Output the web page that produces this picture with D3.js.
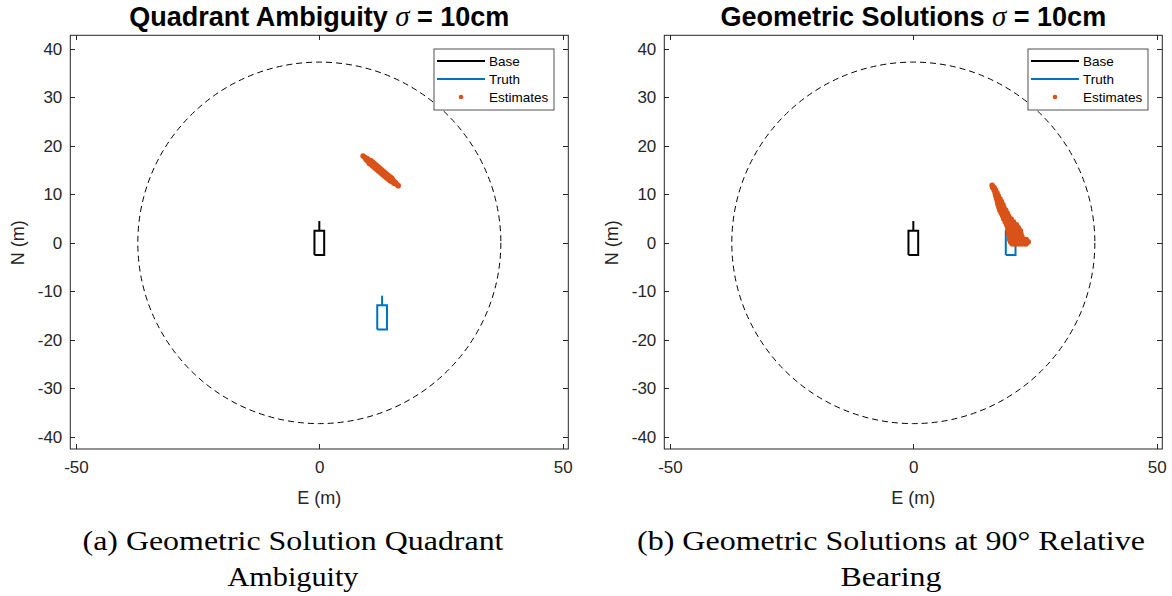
<!DOCTYPE html>
<html><head><meta charset="utf-8">
<script src="https://cdn.jsdelivr.net/npm/d3@7"></script>
<style>body{margin:0;background:#fff}svg{display:block}</style>
</head><body>
<svg id="c" width="1172" height="596"></svg>
<script>
// ---------- data ----------
const xTicks = [-50, 0, 50];
const yTicks = [-40, -30, -20, -10, 0, 10, 20, 30, 40];
const xLimits = [-51.17, 51.16];
const yLimits = [-42.54, 42.83];
const rangeCircleRadius = 37.3;
const legendLabels = ["Base", "Truth", "Estimates"];
const titlePrefixes = ["Quadrant Ambiguity ", "Geometric Solutions "];
const titleSymbol = "σ";
const titleSuffix = " = 10cm";
const captionsA = ["(a) Geometric Solution Quadrant", "Ambiguity"];
const captionsB = ["(b) Geometric Solutions at 90° Relative", "Bearing"];
// vessel outline relative to its centre (E,N metres): hull rectangle + mast
const hullShape = [[-1,-2.5],[1,-2.5],[1,2.5],[-1,2.5],[-1,-2.5]];
const mastShape = [[0,2.5],[0,4.5]];
const baseCentreA = [0, 0];
const truthCentreA = [12.9, -15.4];
const baseCentreB = [0, 0];
const truthCentreB = [20, 0];
// estimated positions (E,N metres)
const estimatesA = [
 [9.00,17.90],[9.36,17.60],
 [9.82,17.40],[9.62,17.18],
 [10.18,17.10],[9.98,16.88],
 [10.63,16.91],[10.44,16.68],[10.25,16.45],
 [10.99,16.61],[10.80,16.38],[10.61,16.15],
 [11.35,16.30],[11.16,16.07],[10.97,15.84],
 [11.71,16.00],[11.52,15.77],[11.33,15.54],
 [12.07,15.69],[11.88,15.46],[11.69,15.23],
 [12.43,15.39],[12.24,15.16],[12.05,14.93],
 [12.79,15.08],[12.60,14.85],[12.41,14.62],
 [13.15,14.78],[12.96,14.55],[12.77,14.32],
 [13.51,14.47],[13.32,14.24],[13.13,14.01],
 [13.87,14.17],[13.68,13.94],[13.49,13.71],
 [14.23,13.86],[14.04,13.63],[13.85,13.40],
 [14.59,13.56],[14.40,13.33],[14.21,13.10],
 [14.95,13.25],[14.76,13.02],[14.57,12.79],
 [15.22,12.83],[15.02,12.61],
 [15.58,12.52],[15.38,12.30],
 [15.84,12.11],[16.20,11.80]
];
const estimatesB = [
 [16.2,11.9],
 [16.3,11.4],[16.6,11.4],
 [16.6,10.9],[16.9,10.9],
 [16.8,10.3],[17.2,10.3],
 [16.95,9.7],[17.45,9.7],
 [17.1,9.1],[17.5,9.1],[17.8,9.1],
 [17.3,8.5],[17.7,8.5],[18.1,8.5],
 [17.4,7.9],[17.9,7.9],[18.4,7.9],
 [17.6,7.3],[18.1,7.3],[18.6,7.3],
 [17.8,6.7],[18.3,6.7],[18.8,6.7],[19.0,6.7],
 [18.1,6.1],[18.6,6.1],[19.1,6.1],[19.3,6.1],
 [18.4,5.5],[18.9,5.5],[19.4,5.5],[19.6,5.5],
 [18.6,4.9],[19.1,4.9],[19.6,4.9],[20.1,4.9],
 [18.9,4.3],[19.4,4.3],[19.9,4.3],[20.4,4.3],[20.6,4.3],
 [19.2,3.7],[19.7,3.7],[20.2,3.7],[20.7,3.7],[21.2,3.7],
 [19.4,3.1],[19.9,3.1],[20.4,3.1],[20.9,3.1],[21.4,3.1],[21.6,3.1],
 [19.5,2.5],[20.0,2.5],[20.5,2.5],[21.0,2.5],[21.5,2.5],[22.0,2.5],
 [19.6,1.9],[20.1,1.9],[20.6,1.9],[21.1,1.9],[21.6,1.9],[22.1,1.9],
 [19.8,1.3],[20.3,1.3],[20.8,1.3],[21.3,1.3],[21.8,1.3],[22.3,1.3],
 [19.8,0.7],[20.3,0.7],[20.8,0.7],[21.3,0.7],[21.8,0.7],[22.3,0.7],[22.8,0.7],[23.2,0.7],
 [20.0,0.2],[20.5,0.2],[21.0,0.2],[21.5,0.2],[22.0,0.2],[22.5,0.2],[23.0,0.2],[23.6,0.2],
 [20.3,-0.2],[20.8,-0.2],[21.3,-0.2],[21.8,-0.2],[22.3,-0.2],[22.8,-0.2],[23.2,-0.2]
];

// ---------- layout / style ----------
const AX = "#262626", BASE_C = "#000000", TRUTH_C = "#0072BD", EST_C = "#D95319";
const SANS = "'Liberation Sans', Arial, Helvetica, sans-serif";
const SERIF = "'Liberation Serif', 'Times New Roman', serif";
const plotL = 70.3, plotR = 568.3, plotT = 35.3, plotB = 449;

const panels = [
  {off: 0,   prefix: titlePrefixes[0], base: baseCentreA, truth: truthCentreA, est: estimatesA,
   caption: captionsA, capX: 293, capW: [421, 131]},
  {off: 594, prefix: titlePrefixes[1], base: baseCentreB, truth: truthCentreB, est: estimatesB,
   caption: captionsB, capX: 297, capW: [508, 101]}
];

const svg = d3.select("#c");
svg.append("rect").attr("width", 1172).attr("height", 596).attr("fill", "#fff");

panels.forEach(p => {
  const g = svg.append("g").attr("transform", `translate(${p.off},0)`);
  const x = d3.scaleLinear().domain(xLimits).range([plotL, plotR]);
  const y = d3.scaleLinear().domain(yLimits).range([plotB, plotT]);
  const fmt = d => String(d);

  // axes with inward ticks on all four sides
  const styleAxis = sel => {
    sel.select(".domain").remove();
    sel.attr("color", AX).attr("font-family", SANS).attr("font-size", 17);
    sel.selectAll("line").attr("stroke-width", 1).attr("shape-rendering", "crispEdges");
    sel.selectAll("text").attr("fill", AX);
  };
  g.append("g").attr("transform", `translate(0,${plotB})`)
    .call(d3.axisBottom(x).tickValues(xTicks).tickSizeInner(-5).tickSizeOuter(0).tickPadding(12).tickFormat(fmt))
    .call(styleAxis);
  g.append("g").attr("transform", `translate(0,${plotT})`)
    .call(d3.axisTop(x).tickValues(xTicks).tickSizeInner(-5).tickSizeOuter(0).tickFormat(() => ""))
    .call(styleAxis);
  g.append("g").attr("transform", `translate(${plotL},0)`)
    .call(d3.axisLeft(y).tickValues(yTicks).tickSizeInner(-5).tickSizeOuter(0).tickPadding(8).tickFormat(fmt))
    .call(styleAxis);
  g.append("g").attr("transform", `translate(${plotR},0)`)
    .call(d3.axisRight(y).tickValues(yTicks).tickSizeInner(-5).tickSizeOuter(0).tickFormat(() => ""))
    .call(styleAxis);

  g.append("rect").attr("x", plotL).attr("y", plotT)
    .attr("width", plotR - plotL).attr("height", plotB - plotT)
    .attr("fill", "none").attr("stroke", AX).attr("stroke-width", 1);

  // axis labels
  g.append("text").attr("x", (plotL + plotR) / 2).attr("y", 504)
    .attr("text-anchor", "middle").attr("font-family", SANS).attr("font-size", 18)
    .attr("fill", AX).text("E (m)");
  g.append("text").attr("transform", `translate(24,${y(0)}) rotate(-90)`)
    .attr("text-anchor", "middle").attr("font-family", SANS).attr("font-size", 18)
    .attr("fill", AX).text("N (m)");

  // title
  const t = g.append("text").attr("x", (plotL + plotR) / 2).attr("y", 26)
    .attr("text-anchor", "middle").attr("font-family", SANS).attr("font-weight", "bold")
    .attr("font-size", 27).attr("fill", "#000");
  t.append("tspan").text(p.prefix);
  t.append("tspan").attr("font-family", SERIF).attr("font-style", "italic")
    .attr("font-weight", "normal").attr("font-size", 29).text(titleSymbol);
  t.append("tspan").text(titleSuffix);

  // dashed range circle
  g.append("ellipse").attr("cx", x(0)).attr("cy", y(0))
    .attr("rx", x(rangeCircleRadius) - x(0)).attr("ry", y(0) - y(rangeCircleRadius))
    .attr("fill", "none").attr("stroke", "#000").attr("stroke-width", 1)
    .attr("stroke-dasharray", "6,4");

  // vessels
  const line = d3.line().x(d => x(d[0])).y(d => y(d[1]));
  const drawVessel = (c, col) => {
    [hullShape, mastShape].forEach(s => {
      g.append("path").attr("d", line(s.map(q => [q[0] + c[0], q[1] + c[1]])))
        .attr("fill", "none").attr("stroke", col).attr("stroke-width", 2)
        .attr("stroke-linejoin", "miter");
    });
  };
  drawVessel(p.base, BASE_C);
  drawVessel(p.truth, TRUTH_C);

  // estimates
  g.append("g").selectAll("circle").data(p.est).join("circle")
    .attr("cx", d => x(d[0])).attr("cy", d => y(d[1])).attr("r", 2.8)
    .attr("fill", EST_C);

  // legend
  const lg = g.append("g");
  const lx = 434, ly = 49, lw = 120, lh = 61;
  lg.append("rect").attr("x", lx).attr("y", ly).attr("width", lw).attr("height", lh)
    .attr("fill", "#fff").attr("stroke", AX).attr("stroke-width", 0.8);
  const rowY = [61, 79, 97];
  const cols = [BASE_C, TRUTH_C, EST_C];
  legendLabels.forEach((lab, i) => {
    if (i < 2) {
      lg.append("line").attr("x1", 437).attr("x2", 485).attr("y1", rowY[i]).attr("y2", rowY[i])
        .attr("stroke", cols[i]).attr("stroke-width", 2);
    } else {
      lg.append("circle").attr("cx", 461).attr("cy", rowY[i]).attr("r", 2.3).attr("fill", cols[i]);
    }
    lg.append("text").attr("x", 489).attr("y", rowY[i]).attr("dy", "0.36em")
      .attr("font-family", SANS).attr("font-size", 13.5).attr("fill", "#000").text(lab);
  });

  // caption (LaTeX-style serif)
  p.caption.forEach((c, i) => {
    g.append("text").attr("x", p.capX).attr("y", [550, 586][i])
      .attr("text-anchor", "middle").attr("font-family", SERIF).attr("font-size", 27)
      .attr("fill", "#000")
      .attr("textLength", p.capW[i]).attr("lengthAdjust", "spacingAndGlyphs")
      .text(c);
  });
});
</script>
</body></html>
